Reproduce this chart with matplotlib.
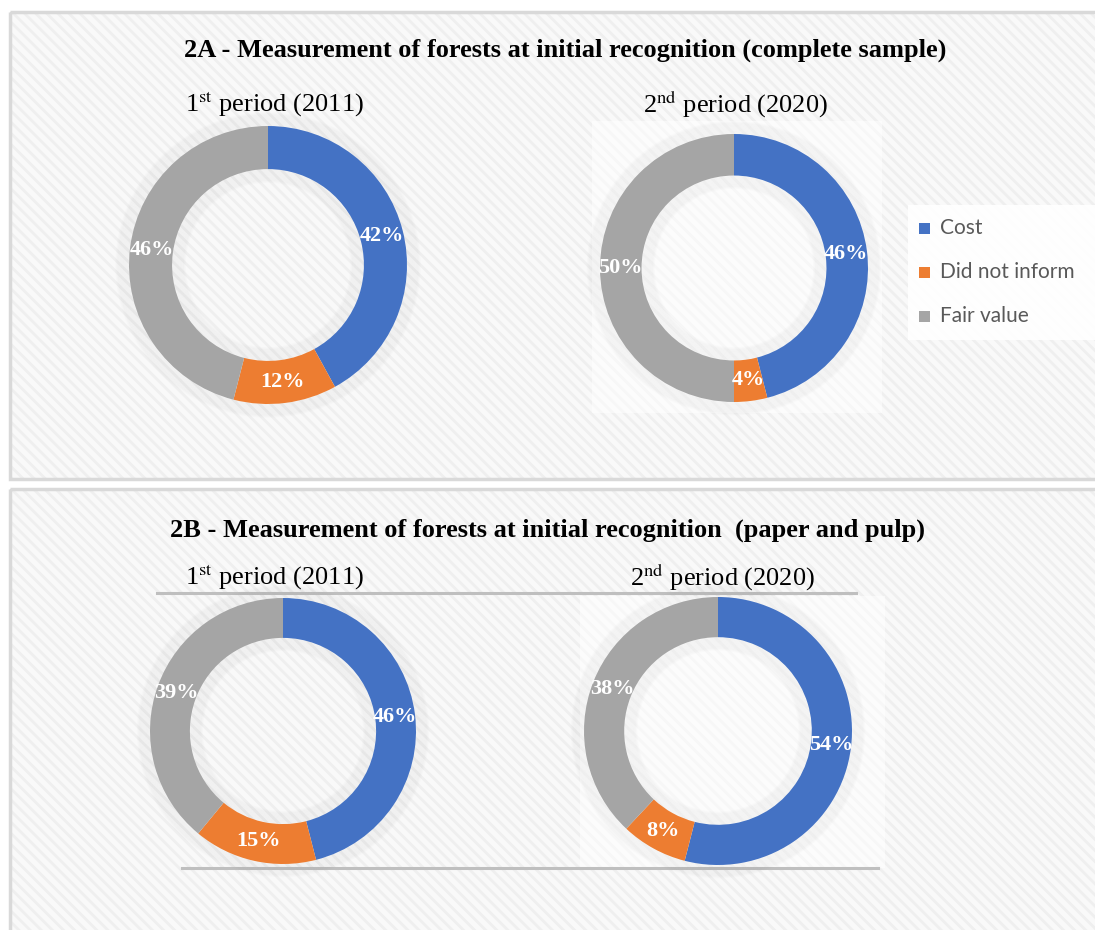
import matplotlib.pyplot as plt
from matplotlib.patches import Rectangle, Circle

# categories and colours (Office palette)
categories = ["Cost", "Did not inform", "Fair value"]
colors = ["#4472C4", "#ED7D31", "#A5A5A5"]

# shares in %
a_2011 = [42, 12, 46]
a_2020 = [46, 4, 50]
b_2011 = [46, 15, 39]
b_2020 = [54, 8, 38]

title_a = "2A - Measurement of forests at initial recognition (complete sample)"
title_b = "2B - Measurement of forests at initial recognition  (paper and pulp)"
period_1 = r"1$^{\mathrm{st}}$ period (2011)"
period_2 = r"2$^{\mathrm{nd}}$ period (2020)"

W, H = 1095, 930
SERIF = "Liberation Serif"

plt.rcParams["mathtext.fontset"] = "stix"
plt.rcParams["hatch.linewidth"] = 2.0

fig = plt.figure(figsize=(W / 100, H / 100), dpi=100)
fig.patch.set_facecolor("white")

bg = fig.add_axes([0, 0, 1, 1])
bg.set_xlim(0, W)
bg.set_ylim(H, 0)
bg.axis("off")


def panel(x, y, w, h):
    bg.add_patch(Rectangle((x, y), w, h, facecolor="#f9f9f9", edgecolor="#efefef",
                           hatch="\\\\\\", linewidth=0, zorder=0))
    bg.add_patch(Rectangle((x, y), w, h, fill=False, edgecolor="#d9d9d9",
                           linewidth=2.5, zorder=1))


panel(10, 12, W + 10, 467)
panel(10, 489, W + 10, 460)

# lighter plot areas behind the right-hand donuts
bg.add_patch(Rectangle((592, 121), 290, 292, facecolor="white", alpha=0.5,
                       linewidth=0, zorder=1))
bg.add_patch(Rectangle((580, 596), 305, 272, facecolor="white", alpha=0.5,
                       linewidth=0, zorder=1))

# titles
bg.text(565, 50, title_a, ha="center", va="center", fontsize=19,
        fontweight="bold", family=SERIF)
bg.text(547, 530, title_b, ha="center", va="center", fontsize=19,
        fontweight="bold", family=SERIF)

# period headings
for x, y, s in [(274, 104, period_1), (735, 104, period_2),
                (274, 577, period_1), (722, 577, period_2)]:
    bg.text(x, y, s, ha="center", va="center", fontsize=19, family=SERIF)

# rule lines in panel B
bg.plot([157, 856], [593, 593], color="#bfbfbf", lw=2.2, zorder=2)
bg.plot([182, 878], [868, 868], color="#bfbfbf", lw=2.2, zorder=2)

# legend
bg.add_patch(Rectangle((908, 205), 190, 135, facecolor="white", alpha=0.9,
                       linewidth=0, zorder=2))
for i, (cat, col) in enumerate(zip(categories, colors)):
    y = 228 + i * 44
    bg.add_patch(Rectangle((919, y - 5.5), 11, 11, facecolor=col, linewidth=0, zorder=3))
    bg.text(940, y, cat, ha="left", va="center", fontsize=15, color="#595959",
            family="Lato", zorder=3)


def donut(values, cx, cy, r, width):
    pad = 1.3
    ax = fig.add_axes([(cx - r * pad) / W, 1 - (cy + r * pad) / H,
                       2 * r * pad / W, 2 * r * pad / H])
    ax.pie(values, colors=colors, startangle=90, counterclock=False, radius=1,
           wedgeprops=dict(width=width, linewidth=0),
           autopct=lambda p: f"{p:.0f}%", pctdistance=1 - width / 2,
           textprops=dict(color="white", fontsize=16, fontweight="bold",
                          family=SERIF))
    # soft shadow outside and inside the ring
    for k in range(12):
        ax.add_patch(Circle((0, 0), 1 + 0.008 * k, fill=False, lw=2.0,
                            ec="#808080", alpha=0.022, zorder=0))
        ax.add_patch(Circle((0, 0), 1 - width - 0.008 * k, fill=False, lw=2.0,
                            ec="#808080", alpha=0.022, zorder=0))
    ax.set_xlim(-pad, pad)
    ax.set_ylim(-pad, pad)
    ax.set_aspect("equal")
    ax.axis("off")


donut(a_2011, 268, 265, 139, 0.31)
donut(a_2020, 734, 268, 134, 0.31)
donut(b_2011, 283, 731, 133, 0.30)
donut(b_2020, 718, 731, 134, 0.30)

fig.savefig("out.png", dpi=100)
